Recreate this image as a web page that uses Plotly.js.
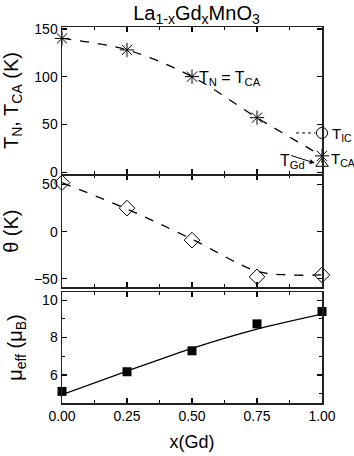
<!DOCTYPE html>
<html>
<head>
<meta charset="utf-8">
<script src="https://cdn.plot.ly/plotly-3.0.1.min.js"></script>
<style>
  html, body { margin: 0; padding: 0; background: #fff; }
  #chart { width: 354px; height: 456px; }
</style>
</head>
<body>
<div id="chart"></div>
<script>
// x(Gd) composition
const xGd = [0, 0.25, 0.5, 0.75, 1.0];

// top panel: T_N = T_CA (K)
const tN = [140, 128, 100, 57, 17];
const xIC = [1.0];
const tIC = [41];
const xTGd = [1.0];
const tGd = [9];
const xDotted = [0.9, 0.975];
const yDotted = [41, 41];

// middle panel: theta (K), and the dashed guide line
const theta = [52, 25, -9, -48, -46];
const xThetaLine = [0, 0.25, 0.5, 0.75, 0.875, 1.0];
const thetaLine = [52, 24, -8, -42, -46, -46];

// bottom panel: mu_eff (mu_B) and the solid fit line
const muEff = [5.12, 6.17, 7.29, 8.73, 9.39];
const muLine = [4.95, 6.2, 7.42, 8.45, 9.25];

const font = "Liberation Sans, Arial, sans-serif";

function axisY(domain, range, dtick, title, standoff) {
  return {
    domain: domain,
    range: range,
    dtick: dtick,
    tick0: 0,
    ticks: "inside",
    ticklen: 5,
    tickwidth: 1.2,
    tickcolor: "#000",
    minor: { ticks: "inside", ticklen: 3, tickwidth: 1, tickcolor: "#000", nticks: 2 },
    showline: true,
    linewidth: 1.5,
    linecolor: "#222",
    mirror: "allticks",
    showgrid: false,
    zeroline: false,
    tickfont: { family: font, size: 14, color: "#000" },
    title: { text: title, font: { family: font, size: 20, color: "#000" }, standoff: standoff },
  };
}

function axisX(anchor, labels) {
  return {
    anchor: anchor,
    range: [0, 1],
    tickvals: [0, 0.25, 0.5, 0.75, 1.0],
    ticktext: ["0.00", "0.25", "0.50", "0.75", "1.00"],
    showticklabels: labels,
    ticks: "inside",
    ticklen: 5,
    tickwidth: 1.2,
    tickcolor: "#000",
    minor: { tickvals: [0.125, 0.375, 0.625, 0.875], ticks: "inside", ticklen: 3, tickwidth: 1, tickcolor: "#000" },
    showline: true,
    linewidth: 1.5,
    linecolor: "#222",
    mirror: "allticks",
    showgrid: false,
    zeroline: false,
    tickfont: { family: font, size: 14, color: "#000" },
  };
}

const traces = [
  // top panel
  { x: xGd, y: tN, xaxis: "x3", yaxis: "y", mode: "lines", line: { color: "#000", width: 1.3, dash: "dash", shape: "spline" } },
  { x: xDotted, y: yDotted, xaxis: "x3", yaxis: "y", mode: "lines", line: { color: "#000", width: 1, dash: "dot" } },
  { x: xGd, y: tN, xaxis: "x3", yaxis: "y", mode: "markers", cliponaxis: false,
    marker: { symbol: "asterisk-open", size: 12, color: "#000", line: { color: "#000", width: 1 } } },
  { x: xIC, y: tIC, xaxis: "x3", yaxis: "y", mode: "markers", cliponaxis: false,
    marker: { symbol: "circle-open", size: 11, color: "#000", line: { color: "#000", width: 1 } } },
  { x: xTGd, y: tGd, xaxis: "x3", yaxis: "y", mode: "markers", cliponaxis: false,
    marker: { symbol: "triangle-up-open", size: 11, color: "#000", line: { color: "#000", width: 1 } } },
  // middle panel
  { x: xThetaLine, y: thetaLine, xaxis: "x2", yaxis: "y2", mode: "lines", line: { color: "#000", width: 1.3, dash: "dash", shape: "spline" } },
  { x: xGd, y: theta, xaxis: "x2", yaxis: "y2", mode: "markers", cliponaxis: false,
    marker: { symbol: "diamond-open", size: 12, color: "#000", line: { color: "#000", width: 1 } } },
  // bottom panel
  { x: xGd, y: muLine, xaxis: "x", yaxis: "y3", mode: "lines", line: { color: "#000", width: 1.3, shape: "spline", smoothing: 0.8 } },
  { x: xGd, y: muEff, xaxis: "x", yaxis: "y3", mode: "markers", cliponaxis: false,
    marker: { symbol: "square", size: 9, color: "#000" } },
];

const annFont = { family: font, size: 16, color: "#000" };
const sideFont = { family: font, size: 15, color: "#000" };

const layout = {
  width: 354,
  height: 456,
  margin: { l: 62, r: 32, t: 27, b: 53 },
  paper_bgcolor: "#fff",
  plot_bgcolor: "#fff",
  showlegend: false,
  hovermode: false,
  title: {
    text: "La<sub>1-x</sub>Gd<sub>x</sub>MnO<sub>3</sub>",
    font: { family: font, size: 20, color: "#000" },
    x: 0.555, xanchor: "center", y: 0.972, yanchor: "middle",
  },
  xaxis: Object.assign(axisX("y3", true), {
    title: { text: "x(Gd)", font: { family: font, size: 18, color: "#000" }, standoff: 12 },
  }),
  xaxis2: Object.assign(axisX("y2", false), { matches: "x" }),
  xaxis3: Object.assign(axisX("y", false), { matches: "x" }),
  yaxis: axisY([0.609, 1], [-2, 152], 50, "T<sub>N</sub>, T<sub>CA</sub> (K)", 10),
  yaxis2: axisY([0.308, 0.606], [-59, 60], 50, "θ (K)", 10),
  yaxis3: axisY([0, 0.295], [4.5, 10.43], 2, "μ<sub>eff</sub> (μ<sub>B</sub>)", 14),
  annotations: [
    { xref: "x3", yref: "y", x: 0.52, y: 98, xanchor: "left", yanchor: "middle", showarrow: false,
      text: "T<sub>N</sub> = T<sub>CA</sub>", font: annFont },
    { xref: "paper", yref: "y", x: 1.032, y: 39, xanchor: "left", yanchor: "middle", showarrow: false,
      text: "T<sub>IC</sub>", font: sideFont },
    { xref: "paper", yref: "y", x: 1.025, y: 13, xanchor: "left", yanchor: "middle", showarrow: false,
      text: "T<sub>CA</sub>", font: sideFont },
    { xref: "x3", yref: "y", x: 0.83, y: 11, xanchor: "left", yanchor: "middle", showarrow: false,
      text: "T<sub>Gd</sub>", font: annFont },
    { xref: "x3", yref: "y", x: 0.972, y: 9.5, ax: -25, ay: -8, text: "", showarrow: true,
      arrowhead: 2, arrowsize: 1, arrowwidth: 1, arrowcolor: "#000" },
  ],
};

Plotly.newPlot("chart", traces, layout, { staticPlot: true, displayModeBar: false });
</script>
</body>
</html>
